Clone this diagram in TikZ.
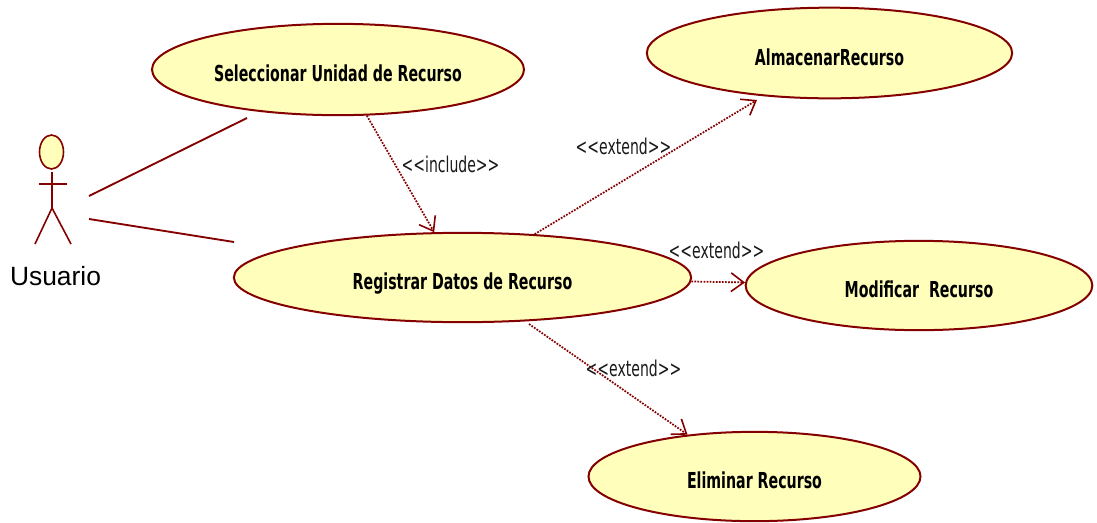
\documentclass[tikz,border=0pt]{standalone}
\usepackage{fontspec}
\usetikzlibrary{arrows.meta,shapes.geometric}
\setmainfont{Liberation Sans}
\newfontfamily\umlfont[FakeStretch=0.645]{DejaVu Sans}
\definecolor{umlred}{HTML}{840000}
\definecolor{umlfill}{HTML}{FFFFBB}
\newcommand{\uctext}[1]{\raisebox{-9pt}[0pt][0pt]{#1}}
\tikzset{
  x=0.75pt,y=-0.75pt,
  usecase/.style={ellipse,draw=umlred,fill=umlfill,line width=1.5pt,inner sep=0pt,font=\umlfont\bfseries\fontsize{16.5}{19}\selectfont},
  stereo/.style={inner sep=0pt,text=black!90,font=\umlfont\fontsize{16.3}{19}\selectfont},
  assoc/.style={draw=umlred,line width=1.4pt},
  dep/.style={draw=umlred,line width=1.3pt,densely dotted,-{Straight Barb[length=9.5pt,width=14pt,line width=1.2pt]}},
  limb/.style={draw=umlred,line width=1.2pt}
}
\begin{document}
\begin{tikzpicture}
\useasboundingbox (0,0) rectangle (1097,522);
\node[usecase,minimum width=279pt,minimum height=68.5pt] (sel) at (338,69.5) {\uctext{Seleccionar Unidad de Recurso}};
\node[usecase,minimum width=274pt,minimum height=68pt] (alm) at (829.5,53) {\uctext{AlmacenarRecurso}};
\node[usecase,minimum width=343pt,minimum height=67pt] (reg) at (462.5,277.5) {\uctext{Registrar Datos de Recurso}};
\node[usecase,minimum width=260pt,minimum height=67pt] (mod) at (919,285.5) {\uctext{Modificar\ \ Recurso}};
\node[usecase,minimum width=249pt,minimum height=67pt] (eli) at (754.5,476.5) {\uctext{Eliminar Recurso}};
% actor
\node[ellipse,draw=umlred,fill=umlfill,line width=1.2pt,inner sep=0pt,minimum width=18pt,minimum height=25.5pt] (head) at (51.5,152) {};
\coordinate (neck) at (52,172);
\coordinate (hip) at (52,208);
\coordinate (armL) at (39,184);
\coordinate (armR) at (67,184);
\coordinate (legL) at (35,244);
\coordinate (legR) at (71,244);
\draw[limb] (neck) -- (hip) -- (legL);
\draw[limb] (hip) -- (legR);
\draw[limb] (armL) -- (armR);
\node[inner sep=0pt,font=\fontsize{19.8}{23}\selectfont,text=black] (usuario) at (55.5,276) {Usuario};
% associations
\coordinate (act1) at (89,196);
\coordinate (act2) at (89,219);
\coordinate (selend) at (247,118);
\coordinate (regend) at (234,242);
\draw[assoc] (act1) -- (selend);
\draw[assoc] (act2) -- (regend);
% dependencies
\coordinate (almin) at (757,100);
\coordinate (regout) at (529,324);
\draw[dep] (sel.-58) -- (reg.122);
\draw[dep] (reg.31) -- (almin);
\draw[dep] (reg.-1.4) -- (mod.179);
\draw[dep] (regout) -- (eli.148);
% labels
\node[stereo] (linc) at (450.5,164) {<{}<include>{}>};
\node[stereo] (lext1) at (623.5,146) {<{}<extend>{}>};
\node[stereo] (lext2) at (716.5,250) {<{}<extend>{}>};
\node[stereo] (lext3) at (633.5,368) {<{}<extend>{}>};
\end{tikzpicture}
\end{document}
